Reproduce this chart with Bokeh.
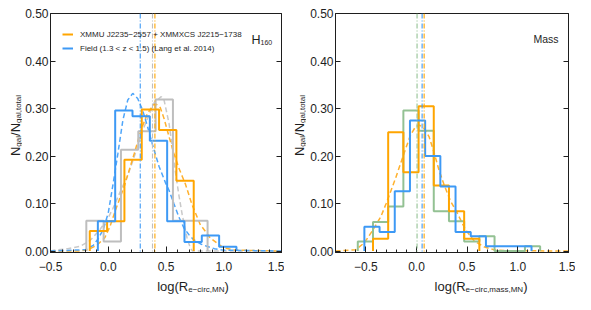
import math
from bokeh.plotting import figure
from bokeh.models import (Range1d, FixedTicker, LinearAxis, Span, Label, Legend,
                          LegendItem, NumeralTickFormatter)
from bokeh.layouts import row, column
from bokeh.embed import file_html
from bokeh.resources import INLINE

# ---------------- data ----------------
# Left panel: H160 effective radii
h160_orange_edges = [-0.16, -0.01, 0.14, 0.29, 0.44, 0.59, 0.74]
h160_orange_frac = [0.042, 0.063, 0.192, 0.298, 0.255, 0.148]
h160_blue_edges = [-0.09, 0.06, 0.21, 0.36, 0.51, 0.66, 0.81, 0.96, 1.11]
h160_blue_frac = [0.063, 0.296, 0.284, 0.232, 0.063, 0.019, 0.033, 0.009]
h160_gray_edges = [-0.19, -0.04, 0.11, 0.26, 0.41, 0.56, 0.71, 0.86]
h160_gray_frac = [0.064, 0.020, 0.213, 0.252, 0.319, 0.064, 0.064]

h160_blue_fit_x = [-0.5, -0.2, -0.13, -0.09, -0.044, 0.0, 0.041, 0.084, 0.127, 0.169, 0.212,
                   0.255, 0.297, 0.340, 0.383, 0.440, 0.497, 0.526, 0.568, 0.611, 0.654,
                   0.70, 0.739, 0.80, 0.853, 0.92, 0.996, 1.5]
h160_blue_fit_y = [0.0, 0.003, 0.012, 0.025, 0.045, 0.080, 0.140, 0.206, 0.276, 0.318, 0.332,
                   0.321, 0.297, 0.262, 0.224, 0.178, 0.143, 0.128, 0.100, 0.072, 0.049,
                   0.034, 0.024, 0.015, 0.010, 0.005, 0.002, 0.0]
h160_orange_fit_x = [-0.5, -0.25, -0.173, -0.10, -0.03, 0.012, 0.07, 0.141, 0.226, 0.284,
                     0.34, 0.39, 0.41, 0.45, 0.483, 0.526, 0.568, 0.611, 0.668, 0.725,
                     0.796, 0.882, 0.996, 1.10, 1.5]
h160_orange_fit_y = [0.0, 0.0, 0.003, 0.012, 0.028, 0.050, 0.091, 0.138, 0.206, 0.255,
                     0.290, 0.307, 0.310, 0.302, 0.279, 0.241, 0.206, 0.175, 0.141, 0.098,
                     0.056, 0.028, 0.007, 0.002, 0.0]
h160_gray_fit_x = [-0.5, -0.47, -0.35, -0.244, -0.158, -0.073, 0.0, 0.041, 0.113, 0.17,
                   0.241, 0.30, 0.35, 0.40, 0.459, 0.483, 0.526, 0.554, 0.583, 0.61,
                   0.64, 0.682, 0.711, 0.73, 1.5]
h160_gray_fit_y = [0.0, 0.002, 0.005, 0.010, 0.022, 0.045, 0.070, 0.090, 0.130, 0.160,
                   0.210, 0.255, 0.285, 0.313, 0.325, 0.318, 0.269, 0.220, 0.164, 0.120,
                   0.077, 0.028, 0.006, 0.0, 0.0]

h160_mean_blue = 0.277
h160_mean_gray = 0.383
h160_mean_orange = 0.404

# Right panel: stellar-mass-weighted radii
mass_orange_edges = [-0.43, -0.28, -0.13, 0.02, 0.17, 0.32, 0.47, 0.62]
mass_orange_frac = [0.026, 0.250, 0.166, 0.305, 0.138, 0.084, 0.026]
mass_blue_edges = [-0.515, -0.365, -0.215, -0.065, 0.085, 0.235, 0.385, 0.535, 0.685,
                   0.835, 0.985, 1.135]
mass_blue_frac = [0.051, 0.040, 0.126, 0.275, 0.200, 0.136, 0.040, 0.031, 0.010, 0.010, 0.010]
mass_green_edges = [-0.58, -0.43, -0.28, -0.13, 0.02, 0.17, 0.32, 0.47, 0.62, 0.77, 0.92,
                    1.07, 1.22]
mass_green_frac = [0.020, 0.061, 0.094, 0.296, 0.253, 0.084, 0.063, 0.020, 0.031, 0.0,
                   0.0, 0.010]

mass_orange_fit_x = [-0.8, -0.6, -0.517, -0.435, -0.353, -0.30, -0.206, -0.123, -0.058,
                     -0.009, 0.03, 0.074, 0.123, 0.172, 0.221, 0.271, 0.336, 0.402, 0.483,
                     0.566, 0.664, 0.76, 0.86, 1.5]
mass_orange_fit_y = [0.0, 0.003, 0.017, 0.043, 0.072, 0.100, 0.154, 0.206, 0.245, 0.262,
                     0.265, 0.258, 0.241, 0.208, 0.171, 0.140, 0.105, 0.080, 0.045, 0.022,
                     0.009, 0.003, 0.001, 0.0]

mass_mean_green = 0.005
mass_mean_blue = 0.055
mass_mean_orange = 0.075

x_ticks = [-0.5, 0.0, 0.5, 1.0, 1.5]
x_tick_labels = ["\u22120.5", "0.0", "0.5", "1.0", "1.5"]
y_ticks = [0.0, 0.1, 0.2, 0.3, 0.4, 0.5]

legend_labels = ["XMMU J2235\u22122557 + XMMXCS J2215\u22121738",
                 "Field (1.3 < z < 1.5) (Lang et al. 2014)"]

# ---------------- styling ----------------
FONT = "Liberation Sans"
INK = "#1e1e1e"
ORANGE = "#FFA500"
BLUE = "#3D99F5"
GRAY = "#BEBEBE"
GREEN = "#93C193"
ORANGE_D = "#FFB12E"
BLUE_D = "#4FA6FA"
GRAY_D = "#C9C9C9"

FRAME_W = 233
FRAME_H = 239
PLOT_H = 276      # frame + top/bottom borders
XLAB_H = 20       # strip under each panel holding the x title
COL_H = PLOT_H + XLAB_H

AW = {' ': 278, '(': 333, ')': 333, ',': 278, '-': 333, '\u2212': 584, '.': 278, '/': 278,
      '+': 584, '<': 584}
for c in "0123456789":
    AW[c] = 556
AW.update({'A': 667, 'B': 667, 'C': 722, 'D': 722, 'E': 667, 'F': 611, 'G': 778, 'H': 722,
           'I': 278, 'J': 500, 'K': 667, 'L': 556, 'M': 833, 'N': 722, 'O': 778, 'P': 667,
           'R': 722, 'S': 667, 'T': 611, 'U': 722, 'X': 667,
           'a': 556, 'b': 556, 'c': 500, 'd': 556, 'e': 556, 'f': 278, 'g': 556, 'h': 556,
           'i': 222, 'l': 222, 'm': 833, 'n': 556, 'o': 556, 'r': 333, 's': 500, 't': 278,
           'u': 556, 'z': 500})


def tw(s, px):
    return sum(AW.get(c, 556) for c in s) * px / 1000.0


def rich(p, x, y, pieces, vertical=False, center=True):
    """Text with subscripts; x, y in screen px relative to the frame's bottom-left."""
    total = sum(tw(t, s) for t, s, _ in pieces)
    pos = -total / 2.0 if center else 0.0
    for t, s, sh in pieces:
        kw = dict(x_units="screen", y_units="screen", text=t, text_font=FONT,
                  text_font_size=f"{s}px", text_color=INK, text_align="left",
                  text_baseline="alphabetic")
        if vertical:
            lab = Label(x=x + sh, y=y + pos, angle=math.pi / 2, **kw)
        else:
            lab = Label(x=x + pos, y=y - sh, **kw)
        p.add_layout(lab)
        pos += tw(t, s)


def step_xy(edges, heights):
    xs, ys = [edges[0]], [0.0]
    for i, h in enumerate(heights):
        xs += [edges[i], edges[i + 1]]
        ys += [h, h]
    xs.append(edges[-1])
    ys.append(0.0)
    return xs, ys


def blank(width, height):
    """An empty canvas strip used only to hold axis titles."""
    b = figure(width=width, height=height, x_range=Range1d(0, 1), y_range=Range1d(0, 1),
               output_backend="svg", toolbar_location=None, x_axis_type=None,
               y_axis_type=None, min_border=0)
    b.grid.visible = False
    b.outline_line_color = None
    b.background_fill_color = "white"
    b.border_fill_color = "white"
    return b


def make_fig(xr, width, left_border, right_border):
    p = figure(width=width, height=PLOT_H, x_range=Range1d(*xr), y_range=Range1d(-0.003, 0.5),
               output_backend="svg", toolbar_location=None,
               min_border_left=left_border, min_border_right=right_border,
               min_border_top=13, min_border_bottom=PLOT_H - 13 - FRAME_H,
               x_axis_type=None, y_axis_type=None)
    p.grid.visible = False
    p.outline_line_color = INK
    p.outline_line_width = 1
    p.background_fill_color = "white"
    p.border_fill_color = "white"

    minor = [round(xr[0] + 0.1 * i, 2) for i in range(int(round((xr[1] - xr[0]) * 10)) + 1)]
    xt = FixedTicker(ticks=x_ticks, minor_ticks=minor)
    xa = LinearAxis(ticker=xt, formatter=NumeralTickFormatter(format="0.0"))
    xa.major_label_overrides = {v: s for v, s in zip(x_ticks, x_tick_labels)}
    xa.major_tick_in = 6
    xa.major_tick_out = 0
    xa.minor_tick_in = 3
    xa.minor_tick_out = 0
    xa.major_label_standoff = 9
    xa.axis_line_color = INK
    xa.major_tick_line_color = INK
    xa.minor_tick_line_color = INK
    xa.major_label_text_font = FONT
    xa.major_label_text_font_size = "12px"
    xa.major_label_text_color = INK
    p.add_layout(xa, "below")

    yt = FixedTicker(ticks=y_ticks, minor_ticks=[])
    ya = LinearAxis(ticker=yt, formatter=NumeralTickFormatter(format="0.00"))
    ya.major_tick_in = 5
    ya.major_tick_out = 0
    ya.major_label_standoff = 2
    ya.axis_line_color = INK
    ya.major_tick_line_color = INK
    ya.major_label_text_font = FONT
    ya.major_label_text_font_size = "12px"
    ya.major_label_text_color = INK
    p.add_layout(ya, "left")

    yr = LinearAxis(ticker=FixedTicker(ticks=y_ticks, minor_ticks=[]))
    yr.major_label_overrides = {v: "" for v in y_ticks}
    yr.major_tick_in = 5
    yr.major_tick_out = 0
    yr.major_label_standoff = 0
    yr.axis_line_color = INK
    yr.major_tick_line_color = INK
    p.add_layout(yr, "right")
    return p


# ---------------- left panel ----------------
P1_W, P1_LB = 262, 26
p1 = make_fig((-0.5, 1.5), P1_W, P1_LB, P1_W - P1_LB - FRAME_W)

for val, col in [(h160_mean_gray, GRAY), (h160_mean_orange, ORANGE), (h160_mean_blue, BLUE)]:
    p1.add_layout(Span(location=val, dimension="height", line_color=col, line_width=1.1,
                       line_dash="5 2 1 2"))

p1.line(h160_gray_fit_x, h160_gray_fit_y, line_color=GRAY_D, line_width=1.5, line_dash="5 3")
p1.line(h160_orange_fit_x, h160_orange_fit_y, line_color=ORANGE_D, line_width=1.5, line_dash="5 3")
p1.line(h160_blue_fit_x, h160_blue_fit_y, line_color=BLUE_D, line_width=1.5, line_dash="5 3")

gx, gy = step_xy(h160_gray_edges, h160_gray_frac)
p1.line(gx, gy, line_color=GRAY, line_width=2)
ox, oy = step_xy(h160_orange_edges, h160_orange_frac)
r_or = p1.line(ox, oy, line_color=ORANGE, line_width=2)
bx, by = step_xy(h160_blue_edges, h160_blue_frac)
r_bl = p1.line(bx, by, line_color=BLUE, line_width=2)

legend = Legend(items=[LegendItem(label=legend_labels[0], renderers=[r_or]),
                       LegendItem(label=legend_labels[1], renderers=[r_bl])],
                location=(12, 199), border_line_color=None, background_fill_alpha=0,
                label_text_font=FONT, label_text_font_size="8px", label_text_color=INK,
                glyph_width=11, glyph_height=10, label_height=10, label_standoff=7,
                spacing=4, padding=0, margin=0)
p1.add_layout(legend)

rich(p1, FRAME_W - 32, FRAME_H - 26, [("H", 12.5, 0), ("160", 7, 3)], center=False)

# ---------------- right panel ----------------
P2_W, P2_LB = 269, 29
p2 = make_fig((-0.8, 1.5), P2_W, P2_LB, P2_W - P2_LB - FRAME_W)

for val, col in [(mass_mean_green, GREEN), (mass_mean_blue, BLUE), (mass_mean_orange, ORANGE)]:
    p2.add_layout(Span(location=val, dimension="height", line_color=col, line_width=1.1,
                       line_dash="5 2 1 2"))

p2.line(mass_orange_fit_x, mass_orange_fit_y, line_color=ORANGE_D, line_width=1.5, line_dash="5 3")

grx, gry = step_xy(mass_green_edges, mass_green_frac)
p2.line(grx, gry, line_color=GREEN, line_width=2)
mox, moy = step_xy(mass_orange_edges, mass_orange_frac)
p2.line(mox, moy, line_color=ORANGE, line_width=2)
mbx, mby = step_xy(mass_blue_edges, mass_blue_frac)
p2.line(mbx, mby, line_color=BLUE, line_width=2)

p2.add_layout(Label(x=FRAME_W - 10, y=FRAME_H - 25, x_units="screen", y_units="screen",
                    text="Mass", text_font=FONT, text_font_size="10.5px", text_color=INK,
                    text_align="right", text_baseline="alphabetic"))

# ---------------- axis titles (with subscripts) ----------------
YT_W = 22
ytitle1 = blank(YT_W, COL_H)
rich(ytitle1, 15, COL_H - 125, [("N", 13, 0), ("gal", 8, 3), ("/N", 13, 0),
                                ("gal,total", 8, 3)], vertical=True)
xtitle1 = blank(P1_W, XLAB_H)
rich(xtitle1, P1_LB + FRAME_W / 2, 10, [("log(R", 13, 0), ("e\u2212circ,MN", 8, 3), (")", 13, 0)])

ytitle2 = blank(YT_W, COL_H)
rich(ytitle2, 15, COL_H - 125, [("N", 13, 0), ("gal", 8, 3), ("/N", 13, 0),
                                ("gal,total", 8, 3)], vertical=True)
xtitle2 = blank(P2_W, XLAB_H)
rich(xtitle2, P2_LB + FRAME_W / 2, 10,
     [("log(R", 13, 0), ("e\u2212circ,mass,MN", 8, 3), (")", 13, 0)])

layout = row(ytitle1, column(p1, xtitle1), ytitle2, column(p2, xtitle2))
open("out.html", "w").write(file_html(layout, INLINE))
